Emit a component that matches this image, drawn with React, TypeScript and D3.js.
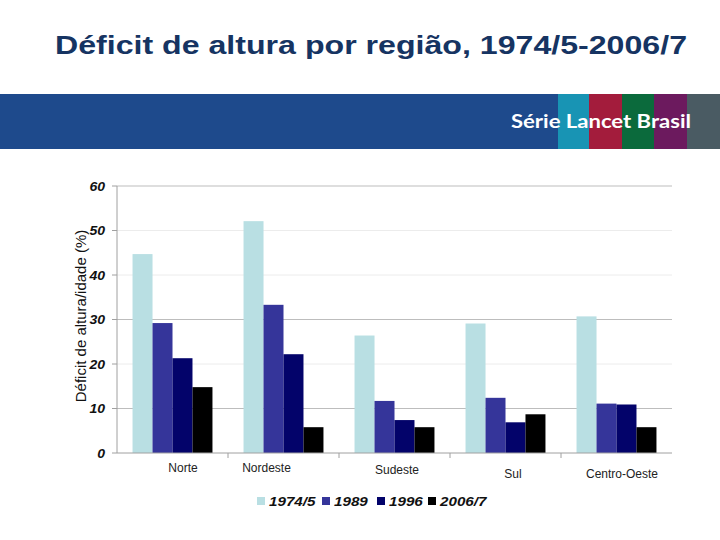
import React, { useEffect } from "react";
import * as d3 from "d3";

const categories = ["Norte", "Nordeste", "Sudeste", "Sul", "Centro-Oeste"];
const seriesNames = ["1974/5", "1989", "1996", "2006/7"];
const values1974 = [44.7, 52.1, 26.4, 29.1, 30.7];
const values1989 = [29.2, 33.3, 11.7, 12.4, 11.1];
const values1996 = [21.3, 22.2, 7.4, 6.9, 10.9];
const values2006 = [14.8, 5.8, 5.8, 8.7, 5.8];
const yTicks = [0, 10, 20, 30, 40, 50, 60];

const seriesValues = [values1974, values1989, values1996, values2006];
const seriesColors = ["#b9dfe3", "#35359a", "#03036a", "#000000"];
// label nudges (layout only)
const labelDx = [10.5, -17, 2.5, 7.5, 5.5];
const labelDy = [0, 0, 2, 6, 6];

const stripes = [
  { x0: 0, x1: 558, c: "#1e4a8c" },
  { x0: 558, x1: 589, c: "#1894b4" },
  { x0: 589, x1: 622, c: "#a31c3c" },
  { x0: 622, x1: 654, c: "#0b6a3c" },
  { x0: 654, x1: 687, c: "#6c1a5e" },
  { x0: 687, x1: 720, c: "#4a5b63" },
];

export default function App() {
  useEffect(() => {
    document.body.style.margin = "0";
  }, []);

  const left = 117, right = 672, top = 186, bottom = 453;
  const x0 = d3.scaleBand<string>().domain(categories).range([left, right]).paddingInner(0.28).paddingOuter(0.14);
  const x1 = d3.scaleBand<string>().domain(seriesNames).range([0, x0.bandwidth()]);
  const y = d3.scaleLinear().domain([0, 60]).range([bottom, top]);
  const font = "'Liberation Sans', Arial, sans-serif";
  const step = x0.step();
  const sx = 1.17;

  const legendX = [257, 322, 377, 428];

  return (
    <svg width={720} height={540} style={{ position: "absolute", left: 0, top: 0, background: "#fff" }}>
      <rect x={0} y={0} width={720} height={540} fill="#fff" />
      <text x={55} y={54} textLength={632} lengthAdjust="spacingAndGlyphs" fontFamily={font} fontWeight="bold" fontSize={25} fill="#163462">
        Déficit de altura por região, 1974/5-2006/7
      </text>
      {stripes.map((s, i) => (
        <rect key={i} x={s.x0} y={94} width={s.x1 - s.x0} height={55} fill={s.c} />
      ))}
      <text x={511} y={128} textLength={180} lengthAdjust="spacingAndGlyphs" fontFamily="Lato, 'Open Sans', sans-serif" fontWeight="bold" fontSize={19} fill="#fff">
        Série Lancet Brasil
      </text>

      {yTicks.filter((t) => t > 0).map((t) => (
        <line key={t} x1={left} x2={right} y1={y(t)} y2={y(t)}
          stroke={t === 10 || t === 30 || t === 60 ? "#bdbdbd" : "#ececec"} strokeWidth={1} />
      ))}
      {seriesValues.map((vals, si) =>
        categories.map((c, ci) => (
          <rect key={si + "-" + ci} x={(x0(c) as number) + (x1(seriesNames[si]) as number)} y={y(vals[ci])}
            width={x1.bandwidth()} height={bottom - y(vals[ci])} fill={seriesColors[si]} />
        ))
      )}
      <line x1={left} x2={left} y1={top} y2={bottom} stroke="#a0a0a0" />
      <line x1={left} x2={right} y1={bottom} y2={bottom} stroke="#a0a0a0" />
      {yTicks.map((t) => (
        <g key={t}>
          <line x1={left - 5} x2={left} y1={y(t)} y2={y(t)} stroke="#a0a0a0" />
          <text transform={`translate(105, ${y(t) + 4.5}) scale(1.08, 1)`} textAnchor="end" fontFamily={font} fontWeight="bold" fontStyle="italic" fontSize={13} fill="#111">
            {t}
          </text>
        </g>
      ))}
      {categories.map((c, i) => (
        <g key={c}>
          {i > 0 && <line x1={x0(c)! - (step - x0.bandwidth()) / 2} x2={x0(c)! - (step - x0.bandwidth()) / 2} y1={bottom} y2={bottom + 5} stroke="#a0a0a0" />}
          <text x={(x0(c) as number) + x0.bandwidth() / 2 + labelDx[i]} y={472 + labelDy[i]} textAnchor="middle"
            fontFamily={font} fontSize={12} fill="#222">
            {c}
          </text>
        </g>
      ))}
      <text transform="translate(86, 316) rotate(-90)" textAnchor="middle"
        fontFamily={font} fontSize={15} fill="#111">
        Déficit de altura/idade (%)
      </text>
      {seriesNames.map((s, i) => (
        <g key={s}>
          <rect x={legendX[i]} y={497} width={8} height={8} fill={seriesColors[i]} />
          <text transform={`translate(${legendX[i] + 12}, 505.5) scale(${sx}, 1)`} fontFamily={font} fontWeight="bold" fontStyle="italic" fontSize={13} fill="#111">
            {s}
          </text>
        </g>
      ))}
    </svg>
  );
}
